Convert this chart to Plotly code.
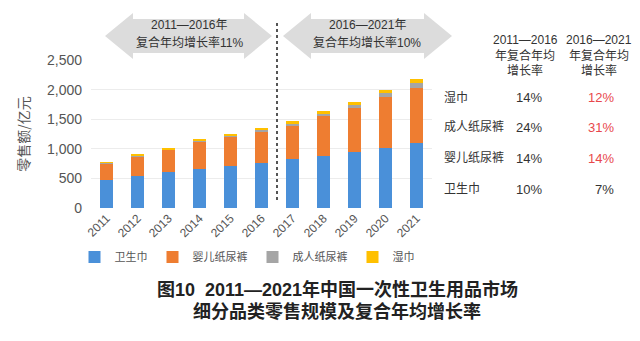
import plotly.graph_objects as go

years = ["2011", "2012", "2013", "2014", "2015", "2016", "2017", "2018", "2019", "2020", "2021"]
sanitary_pads = [470, 545, 606, 667, 712, 768, 825, 886, 948, 1020, 1095]
baby_diapers = [285, 325, 375, 450, 500, 525, 566, 668, 746, 859, 936]
adult_diapers = [10, 12, 14, 17, 20, 25, 35, 40, 48, 60, 84]
wet_wipes = [12, 14, 16, 18, 20, 25, 38, 40, 48, 55, 72]

series_names = ["卫生巾", "婴儿纸尿裤", "成人纸尿裤", "湿巾"]
series_colors = ["#4a90d9", "#ee7d31", "#a5a5a5", "#ffc000"]

table_rows = ["湿巾", "成人纸尿裤", "婴儿纸尿裤", "卫生巾"]
cagr_2011_2016 = ["14%", "24%", "14%", "10%"]
cagr_2016_2021 = ["12%", "31%", "14%", "7%"]
cagr_2016_2021_red = [True, True, True, False]

W, H = 640, 341
L, R, T, B = 91, 432, 60, 208

FONT = "Liberation Sans, Arial, Noto Sans CJK SC, sans-serif"
CJK = "Noto Sans CJK SC, Liberation Sans, sans-serif"


def px(x):
    return (x - L) / (R - L)


def py(y):
    return (B - y) / (B - T)


fig = go.Figure()
for name, vals, col in zip(series_names, [sanitary_pads, baby_diapers, adult_diapers, wet_wipes], series_colors):
    fig.add_trace(go.Bar(x=years, y=vals, name=name, marker=dict(color=col, line=dict(width=0))))

shapes = []


def arrow(x0, x1, yc, head_half, body_half, head_len):
    pts = [
        (x0, yc), (x0 + head_len, yc - head_half), (x0 + head_len, yc - body_half),
        (x1 - head_len, yc - body_half), (x1 - head_len, yc - head_half), (x1, yc),
        (x1 - head_len, yc + head_half), (x1 - head_len, yc + body_half),
        (x0 + head_len, yc + body_half), (x0 + head_len, yc + head_half),
    ]
    d = "M " + " L ".join(f"{px(a):.5f},{py(b):.5f}" for a, b in pts) + " Z"
    return dict(type="path", xref="paper", yref="paper", path=d,
                fillcolor="#dcdcdc", line=dict(width=0), layer="below")


shapes.append(arrow(105, 272, 36, 23, 17, 28))
shapes.append(arrow(283, 452, 36, 23, 17, 28))
shapes.append(dict(type="line", xref="x", yref="paper", x0=5.5, x1=5.5,
                   y0=py(200), y1=py(21), line=dict(color="#555555", width=2, dash="dot")))

annotations = []


def txt(x, y, s, size=12, color="#333333", xanchor="center", bold=False, family=FONT):
    if bold:
        s = f"<b>{s}</b>"
    annotations.append(dict(x=px(x), y=py(y), xref="paper", yref="paper", text=s, showarrow=False,
                            xanchor=xanchor, yanchor="middle",
                            font=dict(size=size, color=color, family=family)))


# arrow labels
txt(189, 25, "2011—2016年", 12)
txt(189, 43, "复合年均增长率11%", 12)
txt(367, 25, "2016—2021年", 12)
txt(367, 43, "复合年均增长率10%", 12)

# table headers
for cx, yr in [(525, "2011—2016"), (599, "2016—2021")]:
    txt(cx, 40, yr, 12)
    txt(cx, 55, "年复合年均", 12)
    txt(cx, 70, "增长率", 12)

row_y = [97, 127, 158, 189]
for name, a, b, red, y in zip(table_rows, cagr_2011_2016, cagr_2016_2021, cagr_2016_2021_red, row_y):
    txt(442, y, name, 12, xanchor="left")
    txt(529, y, a, 13)
    txt(616, y, b, 13, color="#e8474c" if red else "#333333", xanchor="right")

# title lines
txt(337, 289, "图10  2011—2021年中国一次性卫生用品市场", 18, color="#222222", bold=True)
txt(337, 311, "细分品类零售规模及复合年均增长率", 18, color="#222222", bold=True)

fig.update_layout(
    width=W, height=H,
    margin=dict(l=L, r=W - R, t=T, b=H - B, pad=0),
    barmode="stack",
    bargap=0.56,
    plot_bgcolor="white",
    paper_bgcolor="white",
    font=dict(family=FONT, color="#555555", size=12),
    showlegend=True,
    legend=dict(orientation="h", traceorder="normal", x=px(247), y=py(257), xanchor="center", yanchor="middle",
                font=dict(size=11, color="#555555", family=CJK), itemwidth=30,
                bgcolor="rgba(0,0,0,0)"),
    shapes=shapes,
    annotations=annotations,
    xaxis=dict(type="category", tickangle=-45, tickfont=dict(size=12, color="#555555"),
               showline=False, showgrid=False, ticks="", fixedrange=True),
    yaxis=dict(range=[0, 2500], tickvals=[0, 500, 1000, 1500, 2000, 2500],
               ticktext=["0", "500", "1,000", "1,500", "2,000", "2,500"],
               tickfont=dict(size=14, color="#555555"), showgrid=True, gridcolor="#ececec",
               gridwidth=1, zeroline=False, showline=False, ticklabelstandoff=8,
               title=dict(text="零售额/亿元", font=dict(size=14, color="#555555", family=CJK), standoff=14)),
)

fig.write_html("out.html")
